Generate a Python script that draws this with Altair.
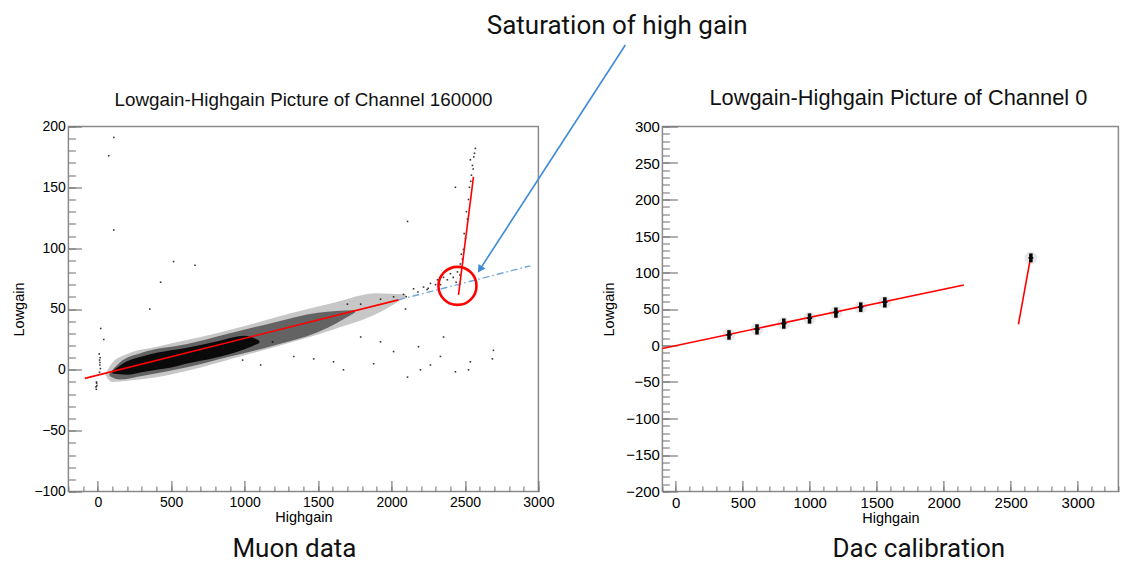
import altair as alt
import pandas as pd

FONT = "Liberation Sans"
ANN_FONT = "Roboto"
MINUS = "\u2212"

# ---------------- Left panel: Muon data ----------------
muon_title = ["Lowgain-Highgain Picture of Channel 160000"]
muon_title_x = [1401]
muon_title_y = [217.2]
muon_caption = ["Muon data"]
muon_cap_x = [1339]
muon_cap_y = [-154.2]

# density envelope of the dense cloud
muon_outer_x = [50, 100, 200, 400, 700, 1000, 1300, 1600, 1900, 2100]
muon_outer_lo = [-4, -10, -9, -6, 2, 12, 22, 33, 46, 60]
muon_outer_hi = [-4, 6, 13, 19, 27, 36, 46, 55, 63, 62]

muon_mid_x = [80, 150, 300, 600, 900, 1200, 1500, 1750]
muon_mid_lo = [-5, -8, -5, 2, 11, 20, 31, 47]
muon_mid_hi = [-3, 6, 14, 21, 30, 39, 47, 49]

muon_core_x = [100, 200, 300, 400, 500, 600, 800, 1000, 1100]
muon_core_lo = [-3, -4, -2, 0, 2, 5, 10, 17, 22]
muon_core_hi = [-1, 7, 11, 14, 16, 18, 23, 28, 24]

# sparse points
muon_sparse_x = [109, 75, 109, 516, 662, 428, 354, 20, 41,
                 -12, -10, -8, 10, 12, 14, 16, 18, 12, 15, -6, -9,
                 986, 1109, 1335, 1470, 1605, 1673, 1790, 1878, 2014, 2109, 2184,
                 2265, 2333, 2435, 2524, 2537, 2687, 2694, 2197, 1925, 2095, 2354, 1190, 837,
                 2082, 2150, 2218, 2265, 2313, 2354, 2401, 2449, 2242, 2333, 2014, 1925,
                 1790, 1700, 2100, 2180, 2250, 2300, 2380, 2420, 2440,
                 2537, 2551, 2556, 2571, 2544, 2524, 2517, 2503, 2490, 2483, 2469, 2435,
                 2109, 2401, 2460, 2465, 2475, 2495, 2510, 2530, 2540, 2560, 2565]
muon_sparse_y = [191, 176, 115, 89, 86, 72, 50, 34, 25,
                 -14, -16, -11, 13, 8, 4, 10, 1, -2, 6, -13, -10,
                 8, 4, 11, 9, 6.6, 0, 27, 5, 15, -6, 19,
                 4, 11, -1.6, 0, 6.6, 9, 16, 0, 23, 50, 27, 23, 12,
                 62, 66.6, 68, 71, 74, 76, 79, 80.5, 66, 70, 60, 58,
                 54, 54, 60, 64, 67, 70, 74, 76, 72,
                 172.6, 168, 165, 182, 160, 140, 124, 108, 99, 91, 87, 150,
                 122, 83, 70, 78, 95, 112, 130, 150, 155, 175, 178]

muon_fit_x = [-88, 2047]
muon_fit_y = [-7, 57.5]
muon_ext_x = [2047, 2945]
muon_ext_y = [57.5, 85.5]
muon_sat_x = [2456, 2558]
muon_sat_y = [61.6, 158.6]

circle_x = [2449]
circle_y = [69]
arrow_x = [3592, 2602]
arrow_y = [267, 82.6]
note_text = ["Saturation of high gain"]
note_x = [3537]
note_y = [276.0]

# ---------------- Right panel: DAC calibration ----------------
dac_title = ["Lowgain-Highgain Picture of Channel 0"]
dac_title_x = [1661]
dac_title_y = [328.8]
dac_caption = ["Dac calibration"]
dac_cap_x = [1814]
dac_cap_y = [-290.4]
dac_x = [397, 606, 806, 998, 1195, 1380, 1560, 2650]
dac_y = [14.6, 22.3, 30, 37.4, 45.2, 52.5, 59.3, 120]
dac_lo = [8, 15, 23, 30, 38, 46, 52, 114]
dac_hi = [21, 29, 37, 44, 52, 59, 66, 126]
dac_xl = [377, 586, 786, 978, 1175, 1360, 1540, 2632]
dac_xr = [417, 626, 826, 1018, 1215, 1400, 1580, 2668]
dac_fit_x = [-100, 2150]
dac_fit_y = [-4, 83]
dac_sat_x = [2557, 2653]
dac_sat_y = [29, 126]

TICK = "#7a7a7a"


def df(**cols):
    return pd.DataFrame(cols)


def ax_major(values, title, size, pad, tpad, lsize, orient):
    return alt.Axis(values=values, title=title, orient=orient, tickSize=size, offset=-size,
                    domain=False, grid=False, labelFont=FONT, labelFontSize=lsize,
                    labelColor="black", labelPadding=pad, tickColor=TICK, tickWidth=1.2,
                    titleFont=FONT, titleFontSize=14.5, titleFontWeight="normal",
                    titleColor="black", titlePadding=tpad, labelFlush=False, format="d",
                    labelExpr=f"replace(datum.label, '-', '{MINUS}')")


def ax_minor(values, size, orient):
    return alt.Axis(values=values, title=None, orient=orient, tickSize=size, offset=-size,
                    domain=False, grid=False, labels=False, tickColor=TICK, tickWidth=1.1)


def X(scale, field="x"):
    return alt.X(f"{field}:Q", scale=scale, axis=None)


def Y(scale, field="y"):
    return alt.Y(f"{field}:Q", scale=scale, axis=None)


def label(xs, ys, xv, yv, txt, font, size):
    return alt.Chart(df(x=xv, y=yv, t=txt)).mark_text(
        font=font, fontSize=size, color="#111111", baseline="alphabetic",
        align="center").encode(x=X(xs), y=Y(ys), text="t:N")


def panel(xs, ys, xmaj, xmin, ymaj, ymin, ytpad, lsize, ymajsize, fitd, layers, w, h):
    carrier = alt.Chart(fitd).mark_line(opacity=0).encode(
        x=alt.X("x:Q", scale=xs, axis=ax_major(xmaj, "Highgain", 11, 4, 1, lsize, "bottom")),
        y=alt.Y("y:Q", scale=ys, axis=ax_major(ymaj, "Lowgain", ymajsize, 3, ytpad, lsize, "left")),
    )
    carrier2 = alt.Chart(fitd).mark_line(opacity=0).encode(
        x=alt.X("x:Q", scale=xs, axis=ax_minor(xmin, 5.5, "bottom")),
        y=alt.Y("y:Q", scale=ys, axis=ax_minor(ymin, 7, "left")),
    )
    ch = alt.layer(carrier, carrier2, *layers).resolve_axis(x="independent", y="independent")
    return ch.properties(width=w, height=h)


# ---- left layers
LXS = alt.Scale(domain=[-200, 3000], nice=False, zero=False)
LYS = alt.Scale(domain=[-100, 200], nice=False, zero=False)

fit_l = df(x=muon_fit_x, y=muon_fit_y)


def band(xv, lo, hi, op):
    return alt.Chart(df(x=xv, lo=lo, hi=hi)).mark_area(
        color="black", opacity=op, interpolate="monotone").encode(
        x=X(LXS), y=Y(LYS, "lo"), y2="hi:Q")


left_layers = [
    band(muon_outer_x, muon_outer_lo, muon_outer_hi, 0.22),
    band(muon_mid_x, muon_mid_lo, muon_mid_hi, 0.5),
    band(muon_core_x, muon_core_lo, muon_core_hi, 0.9),
    alt.Chart(df(x=muon_sparse_x, y=muon_sparse_y)).mark_square(
        color="black", size=2.5, opacity=0.8).encode(x=X(LXS), y=Y(LYS)),
    alt.Chart(df(x=muon_ext_x, y=muon_ext_y)).mark_line(
        color="#6fa8dc", strokeWidth=1.4, strokeDash=[7, 3, 1.5, 3]).encode(x=X(LXS), y=Y(LYS)),
    alt.Chart(fit_l).mark_line(color="#ff0000", strokeWidth=1.6).encode(x=X(LXS), y=Y(LYS)),
    alt.Chart(df(x=muon_sat_x, y=muon_sat_y)).mark_line(
        color="#ff0000", strokeWidth=1.6).encode(x=X(LXS), y=Y(LYS)),
    alt.Chart(df(x=circle_x, y=circle_y)).mark_point(
        shape="circle", filled=False, size=1444, strokeWidth=2.6, color="#ff0000",
        opacity=1).encode(x=X(LXS), y=Y(LYS)),
    alt.Chart(df(x=arrow_x, y=arrow_y)).mark_line(
        color="#3d8ad6", strokeWidth=1.6).encode(x=X(LXS), y=Y(LYS)),
    alt.Chart(df(x=arrow_x[1:], y=arrow_y[1:])).mark_point(
        shape="triangle-up", filled=True, size=70, angle=213, color="#3d8ad6",
        opacity=1).encode(x=X(LXS), y=Y(LYS)),
    label(LXS, LYS, note_x, note_y, note_text, ANN_FONT, 26),
    label(LXS, LYS, muon_cap_x, muon_cap_y, muon_caption, ANN_FONT, 26),
    label(LXS, LYS, muon_title_x, muon_title_y, muon_title, FONT, 18.8),
]

left = panel(LXS, LYS,
             list(range(0, 3001, 500)), list(range(-200, 3001, 100)),
             list(range(-100, 201, 50)), list(range(-100, 201, 10)),
             7, 14, 13, fit_l, left_layers, 470, 365)

# ---- right layers
RXS = alt.Scale(domain=[-100, 3303], nice=False, zero=False)
RYS = alt.Scale(domain=[-200, 300], nice=False, zero=False)
fit_r = df(x=dac_fit_x, y=dac_fit_y)
dac_df = df(x=dac_x, y=dac_y, lo=dac_lo, hi=dac_hi, xl=dac_xl, xr=dac_xr)

right_layers = [
    alt.Chart(dac_df).mark_point(shape="circle", filled=True, size=160, color="gray",
                                 opacity=0.18).encode(x=X(RXS), y=Y(RYS)),
    alt.Chart(fit_r).mark_line(color="#ff0000", strokeWidth=1.6).encode(x=X(RXS), y=Y(RYS)),
    alt.Chart(df(x=dac_sat_x, y=dac_sat_y)).mark_line(
        color="#ff0000", strokeWidth=1.6).encode(x=X(RXS), y=Y(RYS)),
    alt.Chart(dac_df).mark_rule(color="black", strokeWidth=3.5).encode(
        x=X(RXS), y=Y(RYS, "lo"), y2="hi:Q"),
    alt.Chart(dac_df).mark_rule(color="black", strokeWidth=1.5).encode(
        x=X(RXS, "xl"), x2="xr:Q", y=Y(RYS)),
    label(RXS, RYS, dac_cap_x, dac_cap_y, dac_caption, ANN_FONT, 26),
    label(RXS, RYS, dac_title_x, dac_title_y, dac_title, FONT, 21.8),
]

right = panel(RXS, RYS,
              list(range(0, 3001, 500)), list(range(-100, 3303, 100)),
              list(range(-200, 301, 50)), list(range(-200, 301, 10)),
              9.5, 15, 15, fit_r, right_layers, 456, 365)

chart = alt.hconcat(left, right, spacing=124, bounds="flush").configure_view(
    stroke="#8a8a8a", strokeWidth=1.5).properties(
    padding={"left": 2.4, "top": 3.5, "right": 0, "bottom": 0}, background="white")

chart.save("out.html", embed_options={"renderer": "svg", "actions": False})
